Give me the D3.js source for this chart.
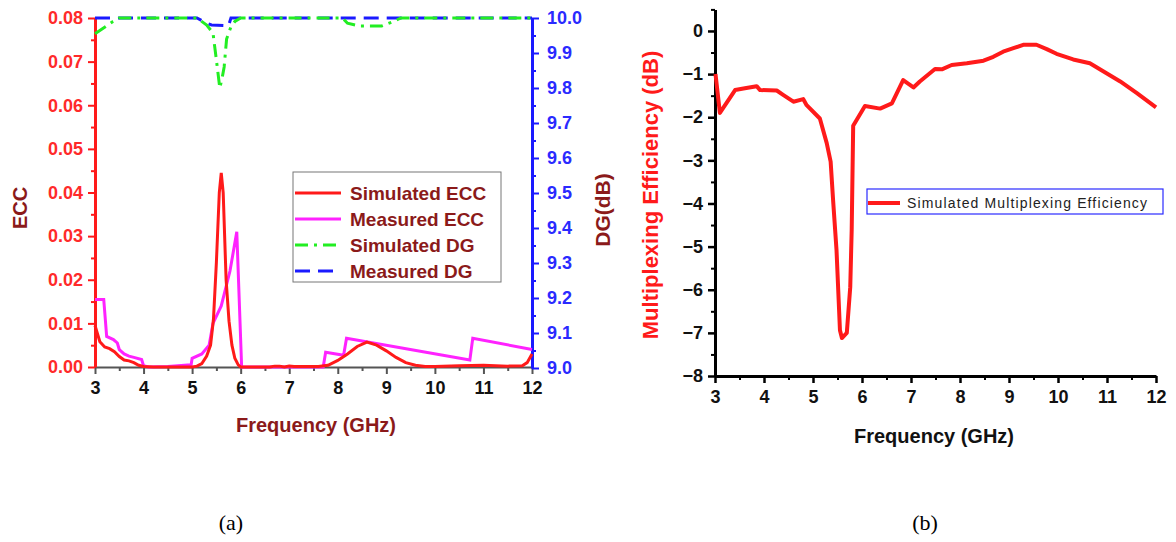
<!DOCTYPE html>
<html>
<head>
<meta charset="utf-8">
<script src="https://cdn.jsdelivr.net/npm/d3@7"></script>
<style>
  body { margin: 0; background: #fff; }
  svg text { font-family: "Liberation Sans", Arial, sans-serif; }
</style>
</head>
<body>
<div id="chart"></div>
<script>
// ---- data ----
const simEccFreq = [3.0, 3.1, 3.2, 3.3, 3.4, 3.5, 3.6, 3.7, 3.8, 3.9, 4.0, 4.2, 5.0, 5.1, 5.2, 5.3, 5.38, 5.44, 5.5, 5.56, 5.6, 5.64, 5.7, 5.76, 5.82, 5.88, 5.95, 6.0, 6.6, 6.7, 6.8, 6.9, 7.0, 7.1, 7.6, 7.8, 8.0, 8.2, 8.4, 8.6, 8.8, 9.0, 9.2, 9.4, 9.6, 9.8, 10.0, 10.5, 11.0, 11.5, 11.8, 11.9, 12.0];
const simEcc = [0.0095, 0.0058, 0.0046, 0.0042, 0.0035, 0.0024, 0.0016, 0.0014, 0.0010, 0.0004, 0.0001, 0, 0, 0.0002, 0.0008, 0.0025, 0.0050, 0.0110, 0.0240, 0.0400, 0.0445, 0.0400, 0.0200, 0.0105, 0.0050, 0.0020, 0.0005, 0, 0, 0.0002, 0.0002, 0, 0.0002, 0.0001, 0.0001, 0.0004, 0.0015, 0.0030, 0.0047, 0.0057, 0.0050, 0.0037, 0.0022, 0.0010, 0.0004, 0.0001, 0.0001, 0.0003, 0.0004, 0.0002, 0.0003, 0.0010, 0.0030];

const measEccFreq = [3.0, 3.18, 3.24, 3.38, 3.46, 3.5, 3.6, 3.7, 3.8, 3.96, 4.0, 4.1, 4.5, 4.98, 5.0, 5.2, 5.35, 5.43, 5.6, 5.78, 5.92, 6.02, 7.7, 7.75, 8.12, 8.18, 10.72, 10.78, 12.0];
const measEcc = [0.0155, 0.0155, 0.0070, 0.0063, 0.0055, 0.0040, 0.0030, 0.0025, 0.0022, 0.0017, 0.0003, 0, 0.0001, 0.0005, 0.0020, 0.0030, 0.0050, 0.0100, 0.0140, 0.0220, 0.0310, 0, 0, 0.0034, 0.0027, 0.0066, 0.0016, 0.0066, 0.0040];

const simDgFreq = [3.0, 3.37, 3.5, 5.1, 5.3, 5.43, 5.5, 5.57, 5.62, 5.66, 5.71, 5.8, 5.88, 6.0, 8.1, 8.2, 8.45, 8.9, 9.15, 9.3, 12.0];
const simDg = [9.955, 9.99, 10.0, 10.0, 9.98, 9.957, 9.88, 9.8, 9.83, 9.86, 9.94, 9.975, 9.99, 10.0, 10.0, 9.985, 9.977, 9.977, 9.99, 10.0, 10.0];

const measDgFreq = [3.0, 5.1, 5.3, 5.4, 5.75, 5.8, 12.0];
const measDg = [10.0, 10.0, 9.985, 9.98, 9.978, 10.0, 10.0];

const meFreq = [3.01, 3.1, 3.41, 3.61, 3.85, 3.92, 4.26, 4.39, 4.6, 4.8, 4.87, 5.14, 5.28, 5.36, 5.41, 5.48, 5.55, 5.59, 5.69, 5.76, 5.79, 5.82, 6.06, 6.37, 6.61, 6.84, 7.05, 7.18, 7.49, 7.63, 7.83, 8.14, 8.48, 8.68, 8.88, 9.09, 9.29, 9.56, 9.77, 9.97, 10.31, 10.65, 10.99, 11.27, 11.61, 12.0];
const meVal = [-1.0, -1.9, -1.37, -1.33, -1.28, -1.37, -1.38, -1.48, -1.64, -1.58, -1.72, -2.03, -2.6, -3.03, -3.92, -5.08, -6.94, -7.12, -7.0, -5.94, -4.6, -2.2, -1.74, -1.8, -1.68, -1.14, -1.31, -1.17, -0.88, -0.89, -0.79, -0.75, -0.69, -0.6, -0.48, -0.4, -0.32, -0.32, -0.42, -0.53, -0.66, -0.75, -0.98, -1.17, -1.44, -1.77];

const freqTicks = [3, 4, 5, 6, 7, 8, 9, 10, 11, 12];
const eccTicks = [0, 0.01, 0.02, 0.03, 0.04, 0.05, 0.06, 0.07, 0.08];
const dgTicks = [9.0, 9.1, 9.2, 9.3, 9.4, 9.5, 9.6, 9.7, 9.8, 9.9, 10.0];
const meTicks = [-8, -7, -6, -5, -4, -3, -2, -1, 0];

const legendA = ["Simulated ECC", "Measured ECC", "Simulated DG", "Measured DG"];
const legendB = ["Simulated Multiplexing Efficiency"];

// ---- svg ----
const W = 1176, H = 542;
const svg = d3.select("#chart").append("svg")
    .attr("width", W)
    .attr("height", H);

const zip = (xs, ys) => xs.map((x, i) => [x, ys[i]]);
const darkRed = "#8b1a1a";

// ================= panel (a) =================
const xa = d3.scaleLinear().domain([3, 12]).range([95, 532]);
const ya = d3.scaleLinear().domain([0, 0.08]).range([367, 18]);
const yd = d3.scaleLinear().domain([9, 10]).range([368, 18]);

const pa = svg.append("g");

// bottom axis (gray)
const xAxisA = pa.append("g").attr("transform", `translate(0,${ya(0)})`)
    .call(d3.axisBottom(xa).tickValues(freqTicks).tickFormat(d3.format("d")).tickSize(7).tickSizeOuter(0));
pa.append("g").attr("transform", `translate(0,${ya(0)})`)
    .call(d3.axisBottom(xa).tickValues(d3.range(3.5, 12, 1)).tickFormat("").tickSize(4).tickSizeOuter(0))
    .call(g => g.select(".domain").remove())
    .selectAll("line").attr("stroke", "#555").attr("stroke-width", 2);
xAxisA.select(".domain").attr("stroke", "#555").attr("stroke-width", 2);
xAxisA.selectAll("line").attr("stroke", "#555").attr("stroke-width", 2);
xAxisA.selectAll("text").attr("fill", "#111").attr("font-size", 18).attr("font-weight", "bold").attr("dy", "0.95em");

// left ECC axis (red)
const yAxisA = pa.append("g").attr("transform", `translate(${xa(3)},0)`)
    .call(d3.axisLeft(ya).tickValues(eccTicks).tickFormat(d3.format(".2f")).tickSize(7).tickSizeOuter(0));
pa.append("g").attr("transform", `translate(${xa(3)},0)`)
    .call(d3.axisLeft(ya).tickValues(d3.range(0.005, 0.08, 0.01)).tickFormat("").tickSize(4).tickSizeOuter(0))
    .call(g => g.select(".domain").remove())
    .selectAll("line").attr("stroke", "#ff1a1a").attr("stroke-width", 2);
yAxisA.select(".domain").attr("stroke", "#ff1a1a").attr("stroke-width", 3);
yAxisA.selectAll("line").attr("stroke", "#ff1a1a").attr("stroke-width", 2);
yAxisA.selectAll("text").attr("fill", "#ff2a2a").attr("font-size", 18).attr("font-weight", "bold").attr("x", -12);

// right DG axis (blue)
const yAxisD = pa.append("g").attr("transform", `translate(${xa(12)},0)`)
    .call(d3.axisRight(yd).tickValues(dgTicks).tickFormat(d3.format(".1f")).tickSize(7).tickSizeOuter(0));
pa.append("g").attr("transform", `translate(${xa(12)},0)`)
    .call(d3.axisRight(yd).tickValues(d3.range(9.05, 10, 0.1)).tickFormat("").tickSize(4).tickSizeOuter(0))
    .call(g => g.select(".domain").remove())
    .selectAll("line").attr("stroke", "#1a1aff").attr("stroke-width", 2);
yAxisD.select(".domain").attr("stroke", "#1a1aff").attr("stroke-width", 3);
yAxisD.selectAll("line").attr("stroke", "#1a1aff").attr("stroke-width", 2);
yAxisD.selectAll("text").attr("fill", "#2a2aff").attr("font-size", 18).attr("font-weight", "bold").attr("x", 15);

// axis titles
pa.append("text").attr("transform", "translate(27,208) rotate(-90)")
    .attr("text-anchor", "middle").attr("fill", darkRed)
    .attr("font-size", 20).attr("font-weight", "bold").text("ECC");
pa.append("text").attr("transform", "translate(610,210) rotate(-90)")
    .attr("text-anchor", "middle").attr("fill", darkRed)
    .attr("font-size", 21).attr("font-weight", "bold").text("DG(dB)");
pa.append("text").attr("x", 316).attr("y", 432)
    .attr("text-anchor", "middle").attr("fill", darkRed)
    .attr("font-size", 20).attr("font-weight", "bold").text("Frequency (GHz)");

// lines
const lineEcc = d3.line().x(d => xa(d[0])).y(d => ya(d[1]));
const lineDg = d3.line().x(d => xa(d[0])).y(d => yd(d[1]));

pa.append("path").datum(zip(measDgFreq, measDg))
    .attr("d", lineDg).attr("fill", "none").attr("stroke", "#1a1aff")
    .attr("stroke-width", 3).attr("stroke-dasharray", "15,8");
pa.append("path").datum(zip(simDgFreq, simDg))
    .attr("d", lineDg).attr("fill", "none").attr("stroke", "#22ee22")
    .attr("stroke-width", 3).attr("stroke-dasharray", "13,6,3,6");
pa.append("path").datum(zip(measEccFreq, measEcc))
    .attr("d", lineEcc).attr("fill", "none").attr("stroke", "#ff22ff")
    .attr("stroke-width", 3);
pa.append("path").datum(zip(simEccFreq, simEcc))
    .attr("d", lineEcc).attr("fill", "none").attr("stroke", "#ff1a1a")
    .attr("stroke-width", 3);

// legend (a)
const legA = pa.append("g");
legA.append("rect").attr("x", 293).attr("y", 172).attr("width", 208).attr("height", 110)
    .attr("fill", "#fff").attr("stroke", "#777").attr("stroke-width", 1);
const legStyles = [
    { color: "#ff1a1a", dash: null },
    { color: "#ff22ff", dash: null },
    { color: "#22ee22", dash: "13,6,3,6" },
    { color: "#1a1aff", dash: "15,8" }
];
legendA.forEach((name, i) => {
    const y = 193 + i * 26;
    legA.append("line").attr("x1", 295).attr("x2", 341).attr("y1", y).attr("y2", y)
        .attr("stroke", legStyles[i].color).attr("stroke-width", 3)
        .attr("stroke-dasharray", legStyles[i].dash);
    legA.append("text").attr("x", 350).attr("y", y + 7)
        .attr("fill", darkRed).attr("font-size", 19).attr("font-weight", "bold").text(name);
});

// ================= panel (b) =================
const xb = d3.scaleLinear().domain([3, 12]).range([715, 1156]);
const yb = d3.scaleLinear().domain([-8, 0.5]).range([376, 9.4]);

const pb = svg.append("g");

const xAxisB = pb.append("g").attr("transform", `translate(0,${yb(-8)})`)
    .call(d3.axisBottom(xb).tickValues(freqTicks).tickFormat(d3.format("d")).tickSize(7).tickSizeOuter(0));
pb.append("g").attr("transform", `translate(0,${yb(-8)})`)
    .call(d3.axisBottom(xb).tickValues(d3.range(3.5, 12, 1)).tickFormat("").tickSize(4).tickSizeOuter(0))
    .call(g => g.select(".domain").remove())
    .selectAll("line").attr("stroke", "#000").attr("stroke-width", 2);
xAxisB.select(".domain").attr("stroke", "#000").attr("stroke-width", 3);
xAxisB.selectAll("line").attr("stroke", "#000").attr("stroke-width", 2.5);
xAxisB.selectAll("text").attr("fill", "#111").attr("font-size", 18).attr("font-weight", "bold").attr("dy", "0.95em");

const yAxisB = pb.append("g").attr("transform", `translate(${xb(3)},0)`)
    .call(d3.axisLeft(yb).tickValues(meTicks).tickFormat(d3.format("d")).tickSize(7).tickSizeOuter(0));
pb.append("g").attr("transform", `translate(${xb(3)},0)`)
    .call(d3.axisLeft(yb).tickValues(d3.range(-7.5, 0.6, 1)).tickFormat("").tickSize(4).tickSizeOuter(0))
    .call(g => g.select(".domain").remove())
    .selectAll("line").attr("stroke", "#000").attr("stroke-width", 2);
yAxisB.select(".domain").attr("stroke", "#000").attr("stroke-width", 3);
yAxisB.selectAll("line").attr("stroke", "#000").attr("stroke-width", 2.5);
yAxisB.selectAll("text").attr("fill", "#111").attr("font-size", 18).attr("font-weight", "bold").attr("x", -12);

pb.append("text").attr("transform", "translate(658,195) rotate(-90)")
    .attr("text-anchor", "middle").attr("fill", "#ff1a1a")
    .attr("font-size", 22).attr("font-weight", "bold").text("Multiplexing Efficiency (dB)");
pb.append("text").attr("x", 934).attr("y", 443)
    .attr("text-anchor", "middle").attr("fill", "#111")
    .attr("font-size", 20).attr("font-weight", "bold").text("Frequency (GHz)");

pb.append("path").datum(zip(meFreq, meVal))
    .attr("d", d3.line().x(d => xb(d[0])).y(d => yb(d[1])))
    .attr("fill", "none").attr("stroke", "#ff1a1a").attr("stroke-width", 4)
    .attr("stroke-linejoin", "round");

// legend (b)
const legB = pb.append("g");
legB.append("rect").attr("x", 867).attr("y", 189).attr("width", 296).attr("height", 25)
    .attr("fill", "#fff").attr("stroke", "#2a2aff").attr("stroke-width", 1.2);
legB.append("line").attr("x1", 868).attr("x2", 900).attr("y1", 203).attr("y2", 203)
    .attr("stroke", "#ff1a1a").attr("stroke-width", 4);
legB.append("text").attr("x", 907).attr("y", 208)
    .attr("fill", "#222").attr("font-size", 14)
    .attr("textLength", 240).attr("lengthAdjust", "spacing")
    .text(legendB[0]);

// captions
svg.append("text").attr("x", 231).attr("y", 530).attr("text-anchor", "middle")
    .style("font-family", "'Liberation Serif', 'Times New Roman', serif")
    .attr("font-size", 22).attr("fill", "#000").text("(a)");
svg.append("text").attr("x", 925).attr("y", 530).attr("text-anchor", "middle")
    .style("font-family", "'Liberation Serif', 'Times New Roman', serif")
    .attr("font-size", 22).attr("fill", "#000").text("(b)");
</script>
</body>
</html>
